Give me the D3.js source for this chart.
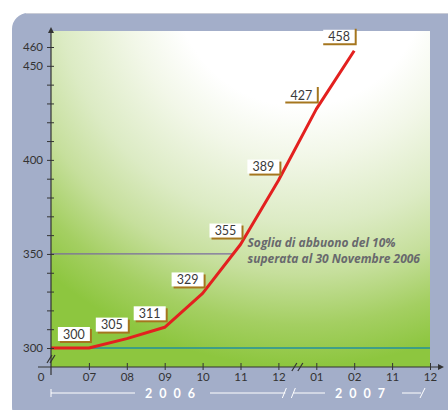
<!DOCTYPE html>
<html>
<head>
<meta charset="utf-8">
<script src="https://cdn.jsdelivr.net/npm/d3@7"></script>
<style>
  body { margin: 0; background: #fff; }
  svg { display: block; }
  text { font-family: Lato, "Open Sans", sans-serif; }
</style>
</head>
<body>
<svg class="graph"></svg>
<script>
// x positions along the (broken) time axis
var xKeys = ["2006-06", "2006-07", "2006-08", "2006-09", "2006-10", "2006-11", "2006-12", "2007-01", "2007-02", "2007-11", "2007-12"]
var xTickLabels = ["0", "07", "08", "09", "10", "11", "12", "01", "02", "11", "12"]

// the red series
var months = ["2006-06", "2006-07", "2006-08", "2006-09", "2006-10", "2006-11", "2006-12", "2007-01", "2007-02"]
var values = [300, 300, 305, 311, 329, 355, 389, 427, 458]
var bracketMonths = ["2007-01", "2007-02"]

var yTicks = [300, 310, 320, 330, 340, 350, 360, 370, 380, 390, 400, 410, 420, 430, 440, 450, 460]
var yTickLabels = [300, 350, 400, 450, 460]
var baseLine = 300
var threshold = 350
var note = ["Soglia di abbuono del 10%", "superata al 30 Novembre 2006"]
var years = ["2006", "2007"]

var width = 448, height = 410
var plot = { left: 51, right: 430, top: 31, bottom: 367 }

var svg = d3.select(".graph")
    .attr("width", width)
    .attr("height", height)

var x = d3.scalePoint().domain(xKeys).range([plot.left, plot.right])
var y = d3.scaleLinear().domain([300, 460]).range([348, 47])

var defs = svg.append("defs")
var grad = defs.append("radialGradient")
    .attr("id", "bg")
    .attr("gradientUnits", "userSpaceOnUse")
    .attr("cx", 300).attr("cy", -20).attr("r", 420)
var stops = [[0.3, "#ffffff"], [0.42, "#f2f7e8"], [0.58, "#dcebc4"], [0.7, "#c6df9c"], [0.82, "#a4cf62"], [0.92, "#8dc63f"]]
stops.forEach(function (s) {
    grad.append("stop").attr("offset", s[0]).attr("stop-color", s[1])
})

// grey-blue panel
svg.append("rect")
    .attr("x", 12).attr("y", 13)
    .attr("width", 470).attr("height", 410)
    .attr("rx", 16)
    .attr("fill", "#a3aec9")
svg.append("line")
    .attr("x1", 26).attr("x2", width)
    .attr("y1", 13.5).attr("y2", 13.5)
    .attr("stroke", "#c9ccd6")

// plot background
svg.append("rect")
    .attr("x", plot.left).attr("y", plot.top)
    .attr("width", plot.right - plot.left)
    .attr("height", plot.bottom - plot.top)
    .attr("fill", "url(#bg)")

// red line points
var pts = months.map(function (m, i) {
    return { key: m, value: values[i], x: x(m), y: y(values[i]) }
})

// crossing of the threshold
var crossX = plot.left
for (var i = 1; i < pts.length; i++) {
    if (pts[i - 1].value < threshold && pts[i].value >= threshold) {
        var t = (threshold - pts[i - 1].value) / (pts[i].value - pts[i - 1].value)
        crossX = pts[i - 1].x + t * (pts[i].x - pts[i - 1].x)
    }
}

svg.append("line")
    .attr("x1", plot.left).attr("x2", plot.right)
    .attr("y1", y(baseLine)).attr("y2", y(baseLine))
    .attr("stroke", "#23909c")
    .attr("stroke-width", 1.6)

svg.append("line")
    .attr("x1", plot.left).attr("x2", crossX)
    .attr("y1", y(threshold)).attr("y2", y(threshold))
    .attr("stroke", "#7a6c9e")
    .attr("stroke-width", 1.2)

svg.append("path")
    .datum(pts)
    .attr("fill", "none")
    .attr("stroke", "#e3201f")
    .attr("stroke-width", 3)
    .attr("stroke-linejoin", "round")
    .attr("d", d3.line().x(function (d) { return d.x }).y(function (d) { return d.y }))

// annotation
var noteX = x("2006-11") + 7
var noteText = svg.append("text")
    .attr("x", noteX)
    .attr("y", y(threshold) - 7)
    .style("font-family", "'Open Sans', sans-serif")
    .style("font-size", "12px")
    .style("font-weight", "bold")
    .style("font-style", "italic")
    .style("fill", "#68696d")
note.forEach(function (line, i) {
    noteText.append("tspan")
        .attr("x", noteX)
        .attr("dy", i == 0 ? 0 : 16)
        .text(line)
})

// value labels
var boxW = 32, boxH = 14
var labels = svg.selectAll(".vlabel")
    .data(pts.slice(1))
    .enter().append("g")
    .attr("class", "vlabel")
    .attr("transform", function (d) {
        return "translate(" + (d.x + 1 - boxW) + "," + (d.y - 7 - boxH) + ")"
    })

labels.each(function (d) {
    var g = d3.select(this)
    if (bracketMonths.indexOf(d.key) >= 0) {
        g.append("rect").attr("width", boxW).attr("height", boxH).attr("fill", "#fff")
        g.append("path")
            .attr("d", "M0," + (boxH + 0.5) + "H" + (boxW + 0.5) + "V-1")
            .attr("fill", "none")
            .attr("stroke", "#a5761e")
            .attr("stroke-width", 2)
    } else {
        g.append("rect").attr("x", 2).attr("y", 2).attr("width", boxW).attr("height", boxH).attr("fill", "#a5761e")
        g.append("rect").attr("width", boxW).attr("height", boxH).attr("fill", "#fff")
    }
    g.append("text")
        .attr("x", boxW / 2)
        .attr("y", boxH - 2.5)
        .attr("text-anchor", "middle")
        .style("font-size", "12.5px")
        .style("fill", "#3a3a3a")
        .text(d.value)
})

// y axis
var yAxis = d3.axisLeft(y)
    .tickValues(yTicks)
    .tickSize(4)
    .tickFormat(function (d) { return yTickLabels.indexOf(d) >= 0 ? d : "" })

var yg = svg.append("g")
    .attr("transform", "translate(" + plot.left + ",0)")
    .call(yAxis)
yg.select(".domain").remove()
yg.selectAll(".tick line").attr("x2", -4).attr("x1", 3).attr("stroke", "#333")
yg.selectAll(".tick text")
    .attr("x", -8)
    .style("font-size", "11.5px")
    .style("font-family", "Lato, sans-serif")
    .attr("fill", "#333")

svg.append("line")
    .attr("x1", plot.left).attr("x2", plot.left)
    .attr("y1", 375).attr("y2", 31)
    .attr("stroke", "#333").attr("stroke-width", 1.2)
svg.append("path")
    .attr("d", "M" + plot.left + ",27l-3,6h6z")
    .attr("fill", "#333")

// x axis
var xAxis = d3.axisBottom(x)
    .tickSize(0)
    .tickFormat(function (d, i) { return i == 0 ? "" : xTickLabels[i] })

var xg = svg.append("g")
    .attr("transform", "translate(0," + plot.bottom + ")")
    .call(xAxis)
xg.select(".domain").remove()
xg.selectAll(".tick line").attr("y1", -4).attr("y2", 3).attr("stroke", "#333")
xg.selectAll(".tick").filter(function (d, i) { return i == 0 }).select("line").remove()
xg.selectAll(".tick text")
    .attr("y", 6)
    .style("font-size", "11.5px")
    .style("font-family", "Lato, sans-serif")
    .attr("fill", "#333")

svg.append("text")
    .attr("x", plot.left - 10)
    .attr("y", plot.bottom + 14)
    .attr("text-anchor", "middle")
    .style("font-size", "11.5px")
    .style("fill", "#333")
    .text(xTickLabels[0])

svg.append("line")
    .attr("x1", 38).attr("x2", 440)
    .attr("y1", plot.bottom).attr("y2", plot.bottom)
    .attr("stroke", "#333").attr("stroke-width", 1.2)
svg.append("path")
    .attr("d", "M444," + plot.bottom + "l-6,-3v6z")
    .attr("fill", "#333")

// axis breaks
function slashes(cx, cy, gap, color) {
    [-gap / 2, gap / 2].forEach(function (o) {
        svg.append("line")
            .attr("x1", cx + o - 2.5).attr("y1", cy + 4)
            .attr("x2", cx + o + 2.5).attr("y2", cy - 4)
            .attr("stroke", color).attr("stroke-width", 1.2)
    })
}
var breakX = (x("2006-12") + x("2007-01")) / 2
slashes(breakX, plot.bottom, 6, "#333")
slashes(plot.left, 359, 3, "#333")

// year row
var yearY = 393
var yr = svg.append("g")
    .attr("stroke", "#fff")
    .attr("stroke-width", 1)
yr.append("line").attr("x1", plot.left).attr("x2", plot.left).attr("y1", yearY - 4).attr("y2", yearY + 4)
yr.append("line").attr("x1", plot.left).attr("x2", 135).attr("y1", yearY).attr("y2", yearY)
yr.append("line").attr("x1", 210).attr("x2", breakX - 12).attr("y1", yearY).attr("y2", yearY)
yr.append("line").attr("x1", breakX - 15).attr("x2", breakX - 11).attr("y1", yearY + 5).attr("y2", yearY - 5)
yr.append("line").attr("x1", breakX - 6).attr("x2", breakX - 2).attr("y1", yearY + 5).attr("y2", yearY - 5)
yr.append("line").attr("x1", breakX - 4).attr("x2", 325).attr("y1", yearY).attr("y2", yearY)
yr.append("line").attr("x1", 402).attr("x2", 421).attr("y1", yearY).attr("y2", yearY)
yr.append("line").attr("x1", 420).attr("x2", 425).attr("y1", yearY + 5).attr("y2", yearY - 5)

svg.selectAll(".year")
    .data(years)
    .enter().append("text")
    .attr("class", "year")
    .attr("x", function (d, i) { return i == 0 ? 145 : 335 })
    .attr("y", yearY + 4.5)
    .style("font-size", "12.5px")
    .style("font-weight", "bold")
    .style("letter-spacing", "7px")
    .style("fill", "#fff")
    .text(function (d) { return d })
</script>
</body>
</html>
